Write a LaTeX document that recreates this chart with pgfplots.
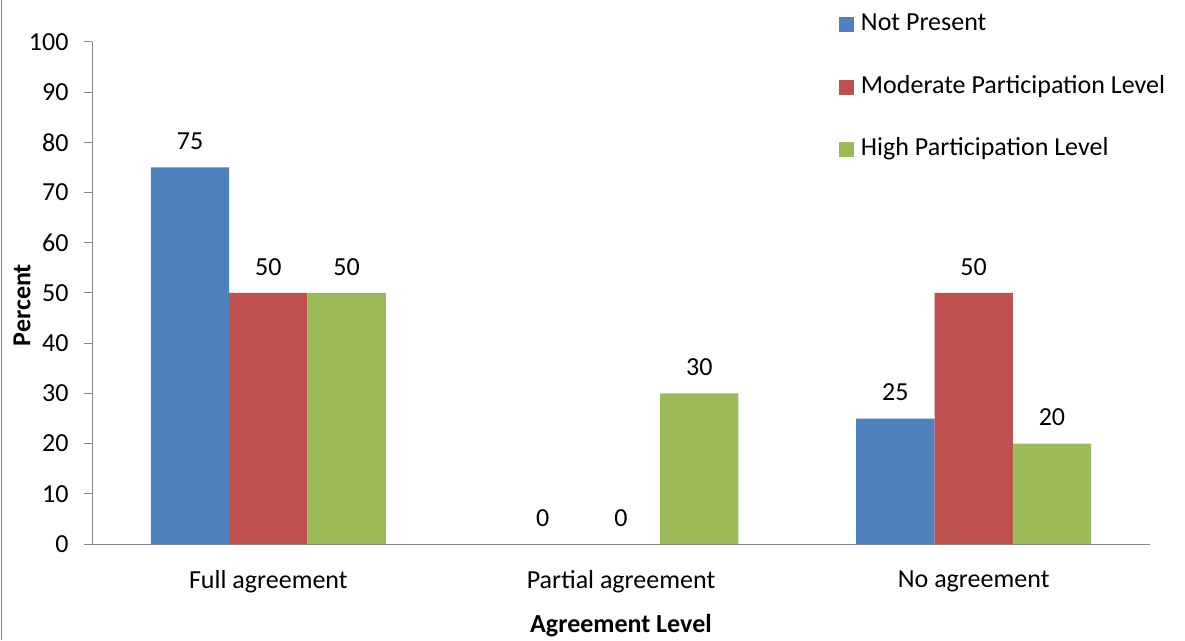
\documentclass[border=0pt]{standalone}
\usepackage{pgfplots}
\pgfplotsset{compat=1.18}
\usepackage{fontspec}
\setmainfont{Carlito}

\definecolor{npblue}{HTML}{4F81BD}
\definecolor{mpred}{HTML}{C0504D}
\definecolor{hpgreen}{HTML}{9BBB59}
\definecolor{axgray}{HTML}{868686}

\newcommand{\chartfont}{\fontsize{26}{31}\selectfont}

\begin{document}
\begin{tikzpicture}[x=1pt,y=1pt]
\path[use as bounding box] (0,0) rectangle (1185,640);
% outer frame edge on the left
\draw[axgray, line width=1.5pt] (1.5,0) -- (1.5,640);

\begin{axis}[
  at={(92pt,96pt)}, anchor=south west,
  scale only axis, width=1058pt, height=502pt,
  xmin=-0.5, xmax=2.5, ymin=0, ymax=100,
  axis x line*=bottom, axis y line*=left,
  axis line style={draw=axgray, line width=1pt, -},
  tick align=outside,
  major tick length=8pt,
  tick style={draw=axgray, line width=1pt},
  ytick={0,10,...,100},
  xtick={0,1,2},
  xticklabels={Full agreement, Partial agreement, No agreement},
  x tick style={draw=none},
  extra x ticks={-0.5,0.5,1.5,2.5},
  extra x tick labels={},
  extra x tick style={tick style={draw=axgray, line width=1pt}, major tick length=8pt},
  /pgf/number format/assume math mode=true,
  tick label style={font=\chartfont},
  yticklabel style={xshift=-12pt},
  xticklabel style={yshift=-15pt},
  xlabel={\textbf{Agreement Level}},
  ylabel={\textbf{Percent}},
  label style={font=\chartfont},
  xlabel style={at={(axis description cs:0.5,-0.1633)}, anchor=center},
  ylabel style={at={(axis description cs:-0.0662,0.476)}, anchor=center},
  ybar, bar width=78.3pt,
  nodes near coords,
  every node near coord/.append style={font=\chartfont, black, yshift=14pt},
  legend style={at={(axis description cs:0.703,1.067)}, anchor=north west,
    draw=none, fill=none, font=\chartfont, row sep=34.7pt,
    nodes={text height=18pt, text depth=6pt}},
  legend cell align=left,
  % filled square key, with a little room before the entry text
  legend image code/.code={\fill[#1] (0pt,-7.5pt) rectangle (15pt,7.5pt); \path (20pt,0pt);},
]
\addplot[fill=npblue, draw=none, bar shift=-78.3pt] coordinates {(0,75) (1,0) (2,25)};
\addplot[fill=mpred, draw=none, bar shift=0pt] coordinates {(0,50) (1,0) (2,50)};
\addplot[fill=hpgreen, draw=none, bar shift=78.3pt] coordinates {(0,50) (1,30) (2,20)};
\legend{Not Present, Moderate Participation Level, High Participation Level}
\end{axis}
\end{tikzpicture}
\end{document}
